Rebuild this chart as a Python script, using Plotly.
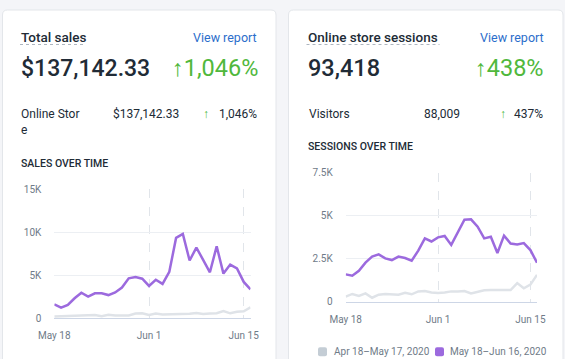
import pandas as pd
import plotly.graph_objects as go

W, H = 565, 359

# ---------------- data ----------------
dates = pd.date_range("2020-05-18", periods=30, freq="D")
sales_current = [1630, 1240, 1550, 2330, 2980, 2520, 2900, 2900, 2700, 3000,
                 3570, 4650, 4800, 4600, 3760, 4480, 4000, 5400, 9350, 9800,
                 6720, 8220, 6800, 5350, 8370, 5200, 6250, 5800, 4230, 3370]
sales_previous = [200, 230, 250, 300, 330, 280, 380, 250, 400, 320,
                  300, 330, 550, 580, 400, 550, 450, 460, 480, 500,
                  520, 620, 500, 560, 600, 850, 580, 760, 820, 1260]
sessions_current = [1590, 1510, 1800, 2270, 2620, 2750, 2520, 2420, 2620, 2540,
                    2380, 2970, 3680, 3500, 3740, 3820, 3300, 4000, 4770, 4790,
                    4360, 3680, 3780, 2830, 3840, 3380, 3330, 3410, 3000, 2270]
sessions_previous = [290, 450, 330, 480, 230, 410, 450, 450, 410, 520,
                     430, 600, 620, 540, 500, 540, 600, 600, 620, 480,
                     580, 660, 680, 660, 680, 680, 1080, 780, 990, 1560]

tick_dates = ["2020-05-18", "2020-06-01", "2020-06-15"]
tick_labels = ["May 18", "Jun 1", "Jun 15"]
sales_ticks = [0, 5000, 10000, 15000]
sales_tick_labels = ["0", "5K", "10K", "15K"]
sessions_ticks = [0, 2500, 5000, 7500]
sessions_tick_labels = ["0", "2.5K", "5K", "7.5K"]
legend_names = ["Apr 18–May 17, 2020", "May 18–Jun 16, 2020"]

# ---------------- style ----------------
FONT = "Roboto"
PURPLE = "#9c6ade"
GRAY_LINE = "#dfe3e8"
GRAY_LEG = "#c4cdd5"
DARK = "#212b36"
BLUE = "#2c6ecb"
GREEN = "#50b83c"
MUTED = "#6f7b88"


def px(x):
    return x / W


def py(y):
    return 1 - y / H


fig = go.Figure()

fig.add_trace(go.Scatter(x=dates, y=sales_previous, mode="lines", name=legend_names[0],
                         line=dict(color=GRAY_LINE, width=2.5),
                         xaxis="x", yaxis="y", showlegend=False, hoverinfo="skip"))
fig.add_trace(go.Scatter(x=dates, y=sales_current, mode="lines", name=legend_names[1],
                         line=dict(color=PURPLE, width=2.5),
                         xaxis="x", yaxis="y", showlegend=False, hoverinfo="skip"))
fig.add_trace(go.Scatter(x=dates, y=sessions_previous, mode="lines", name=legend_names[0],
                         line=dict(color=GRAY_LINE, width=2.5),
                         xaxis="x2", yaxis="y2", showlegend=False, hoverinfo="skip"))
fig.add_trace(go.Scatter(x=dates, y=sessions_current, mode="lines", name=legend_names[1],
                         line=dict(color=PURPLE, width=2.5),
                         xaxis="x2", yaxis="y2", showlegend=False, hoverinfo="skip"))

xcommon = dict(type="date", tickvals=tick_dates, ticktext=tick_labels,
               showgrid=True, gridcolor="#e1e5ea", griddash="dash", gridwidth=1,
               showline=True, linecolor="#cdd6e6", linewidth=1,
               zeroline=False, ticks="", fixedrange=True,
               tickfont=dict(family=FONT, size=10, color=MUTED),
               ticklabelstandoff=8,
               range=["2020-05-18", "2020-06-16"])
ycommon = dict(showgrid=True, gridcolor="#eceff3", gridwidth=1,
               zeroline=False, showline=False, ticks="", fixedrange=True,
               tickfont=dict(family=FONT, size=10, color=MUTED),
               ticklabelstandoff=12)

fig.update_layout(
    width=W, height=H,
    margin=dict(l=0, r=0, t=0, b=0, autoexpand=False),
    paper_bgcolor="#f4f5f8",
    plot_bgcolor="rgba(0,0,0,0)",
    font=dict(family=FONT, color=DARK),
    xaxis=dict(xcommon, domain=[px(54.3), px(250.5)], anchor="y"),
    yaxis=dict(ycommon, domain=[py(318.3), py(189.3)], range=[0, 15000],
               tickvals=sales_ticks, ticktext=sales_tick_labels, anchor="x"),
    xaxis2=dict(xcommon, domain=[px(345.7), px(537)], anchor="y2"),
    yaxis2=dict(ycommon, domain=[py(301.7), py(172.7)], range=[0, 7500],
                tickvals=sessions_ticks, ticktext=sessions_tick_labels, anchor="x2"),
    showlegend=False,
    hovermode=False,
)


def rounded(x0, x1, y0, y1, r, fill, line=None):
    rx, ry = r / W, r / H
    X0, X1, Y0, Y1 = px(x0), px(x1), py(y0), py(y1)
    path = (f"M {X0+rx},{Y0} L {X1-rx},{Y0} Q {X1},{Y0} {X1},{Y0-ry} "
            f"L {X1},{Y1+ry} Q {X1},{Y1} {X1-rx},{Y1} L {X0+rx},{Y1} "
            f"Q {X0},{Y1} {X0},{Y1+ry} L {X0},{Y0-ry} Q {X0},{Y0} {X0+rx},{Y0} Z")
    return dict(type="path", path=path, xref="paper", yref="paper",
                fillcolor=fill,
                line=dict(color=line or fill, width=1 if line else 0), layer="below")


shapes = [rounded(2.5, 276, 10, 380, 5, "white", "#e3e6ea"),
          rounded(288.5, 563, 10, 380, 5, "white", "#e3e6ea")]
# dotted underlines under titles
for x0, x1 in [(20, 85.5), (306.5, 439.5)]:
    shapes.append(dict(type="line", xref="paper", yref="paper",
                       x0=px(x0), x1=px(x1), y0=py(44.5), y1=py(44.5),
                       line=dict(color="#aeb6c0", width=1, dash="dot")))
# legend swatches
for sx, col in [(318, GRAY_LEG), (435, PURPLE)]:
    s = rounded(sx, sx + 9, 347.3, 356.3, 2, col)
    s["layer"] = "above"
    shapes.append(s)
fig.update_layout(shapes=shapes)

ann = []


def text(t, x, y, size, color=DARK, anchor="left", weight=400):
    ann.append(dict(text=t, x=px(x), y=py(y), xref="paper", yref="paper",
                    xanchor=anchor, yanchor="middle", showarrow=False,
                    font=dict(family=FONT, size=size, color=color, weight=weight)))


# left card
text("Total sales", 19, 37, 13.5, weight=500)
text("View report", 259, 37, 12.5, BLUE, "right")
text("$137,142.33", 18.5, 68, 23, weight=500)
text("↑1,046%", 259.5, 68, 23.5, GREEN, "right")
text("Online Stor", 19, 113.5, 12)
text("e", 19, 129.5, 12)
text("$137,142.33", 110.5, 113.5, 12)
text("↑", 211, 113.5, 12, GREEN, "right")
text("1,046%", 258.5, 113.5, 12, anchor="right")
text("SALES OVER TIME", 18.5, 163, 10.5, weight=500)

# right card
text("Online store sessions", 305.5, 37, 13.5, weight=500)
text("View report", 545.5, 37, 12.5, BLUE, "right")
text("93,418", 305.5, 68, 23.5, weight=500)
text("↑438%", 545.5, 68, 23.5, GREEN, "right")
text("Visitors", 306.5, 113.5, 12)
text("88,009", 461.5, 113.5, 12, anchor="right")
text("↑", 507.5, 113.5, 12, GREEN, "right")
text("437%", 544.5, 113.5, 12, anchor="right")
text("SESSIONS OVER TIME", 305.5, 146.5, 10.5, weight=500)

# legend labels
text(legend_names[0], 331.5, 351.5, 10, MUTED)
text(legend_names[1], 447.5, 351.5, 10, MUTED)

fig.update_layout(annotations=ann)

fig.write_html("out.html",
               config={"displayModeBar": False, "staticPlot": True},
               post_script="document.body.style.margin='0';"
                           "document.body.style.overflow='hidden';")
